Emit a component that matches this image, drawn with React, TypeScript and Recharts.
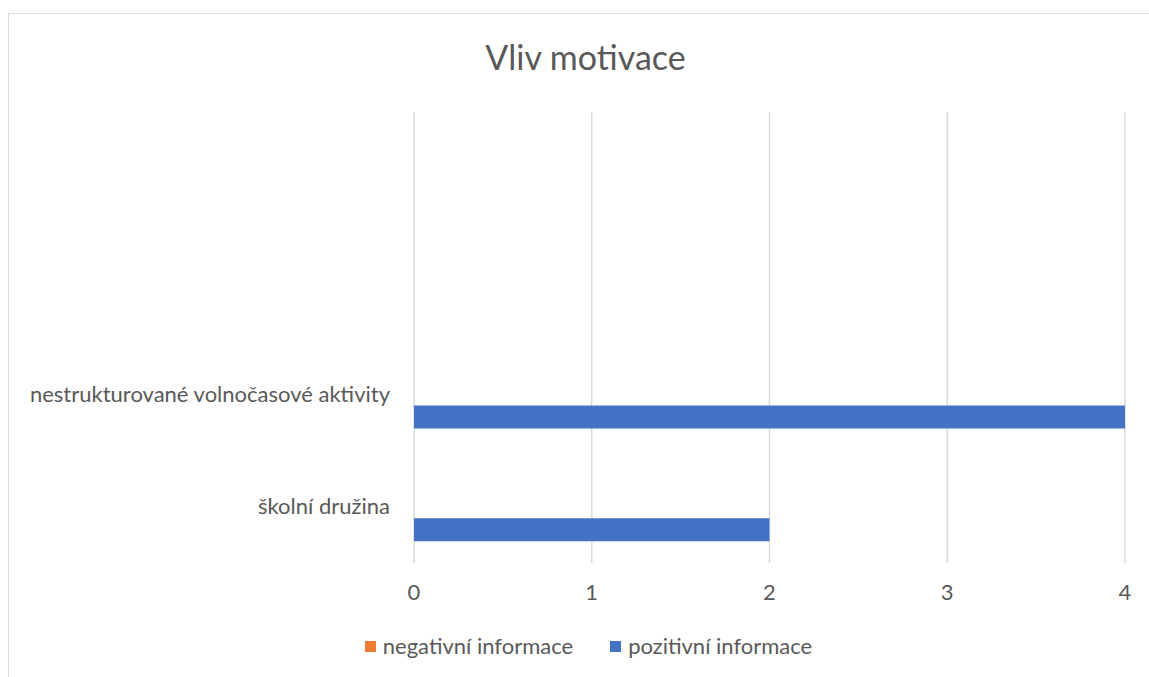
import React from "react";
import { BarChart, Bar, XAxis, YAxis, CartesianGrid, Legend } from "recharts";

const categories = ["", "", "nestrukturované volnočasové aktivity", "školní družina"];
const negativni = [0, 0, 0, 0];
const pozitivni = [0, 0, 4, 2];
const xTicks = [0, 1, 2, 3, 4];

const seriesNames = ["negativní informace", "pozitivní informace"];
const seriesColors = ["#ED7D31", "#4472C4"];

const data = categories.map((name, i) => ({
  name,
  neg: negativni[i],
  poz: pozitivni[i],
}));

const FONT = "Lato, 'Open Sans', sans-serif";
const TEXT = "#595959";

function LegendContent() {
  return (
    <div
      style={{
        display: "flex",
        justifyContent: "center",
        gap: 37,
        height: 30,
        paddingLeft: 52,
        fontFamily: FONT,
        fontSize: 22,
        lineHeight: "30px",
        color: TEXT,
      }}
    >
      {seriesNames.map((n, i) => (
        <div key={n} style={{ display: "flex", alignItems: "center" }}>
          <span
            style={{
              width: 11,
              height: 11,
              flexShrink: 0,
              background: seriesColors[i],
              display: "inline-block",
              marginRight: 7,
            }}
          />
          {n}
        </div>
      ))}
    </div>
  );
}

export default function App() {
  return (
    <div style={{ position: "absolute", left: 0, top: 0, width: 1149, height: 677, background: "#fff" }}>
      <div
        style={{
          position: "absolute",
          left: 8,
          top: 13,
          width: 1160,
          height: 680,
          border: "1.5px solid #dedede",
          boxSizing: "border-box",
        }}
      />
      <div
        style={{
          position: "absolute",
          left: 0,
          width: 1171,
          top: 36,
          textAlign: "center",
          fontFamily: FONT,
          fontSize: 34,
          color: TEXT,
        }}
      >
        Vliv motivace
      </div>
      <div style={{ position: "absolute", left: 0, top: 0 }}>
        <BarChart
          width={1149}
          height={677}
          data={data}
          layout="vertical"
          margin={{ top: 112, right: 24, left: 0, bottom: 0 }}
          barSize={23}
          barGap={23}
        >
          <CartesianGrid horizontal={false} stroke="#d9d9d9" strokeWidth={1.5} />
          <XAxis
            type="number"
            domain={[0, 4]}
            ticks={xTicks}
            axisLine={false}
            tickLine={false}
            tickSize={0}
            tickMargin={21}
            height={84}
            tick={{ fill: TEXT, fontSize: 22, fontFamily: FONT }}
          />
          <YAxis
            type="category"
            dataKey="name"
            width={414}
            axisLine={false}
            tickLine={false}
            tickSize={0}
            tickMargin={24}
            interval={0}
            tick={{ fill: TEXT, fontSize: 22, fontFamily: FONT }}
          />
          <Legend
            verticalAlign="bottom"
            content={<LegendContent />}
            wrapperStyle={{ bottom: 16 }}
          />
          <Bar dataKey="neg" name={seriesNames[0]} fill={seriesColors[0]} isAnimationActive={false} />
          <Bar dataKey="poz" name={seriesNames[1]} fill={seriesColors[1]} isAnimationActive={false} />
        </BarChart>
      </div>
    </div>
  );
}
